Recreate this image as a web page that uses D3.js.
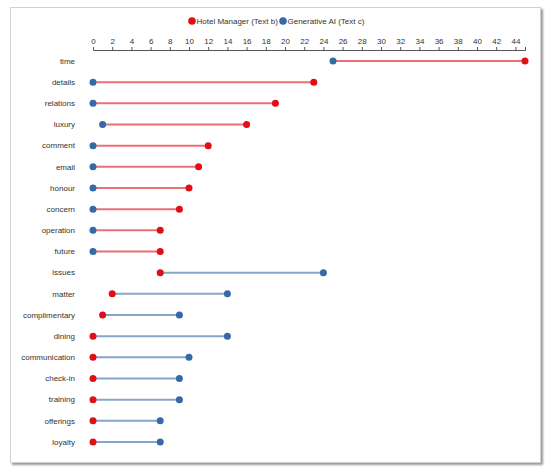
<!DOCTYPE html>
<html>
<head>
<meta charset="utf-8">
<script src="https://cdn.jsdelivr.net/npm/d3@7"></script>
<style>
html,body{margin:0;padding:0;background:#fff;}
#frame{position:absolute;left:10px;top:7px;width:529px;height:454px;border:1px solid #d0d0d0;box-shadow:2px 2px 2px #9a9a9a;background:#fff;}
svg{position:absolute;left:0;top:0;}
text{font-family:"Liberation Sans",Arial,sans-serif;}
</style>
</head>
<body>
<div id="frame"></div>
<svg id="chart" width="550" height="473"></svg>
<script>
const categories = ["time","details","relations","luxury","comment","email","honour","concern","operation","future","issues","matter","complimentary","dining","communication","check-in","training","offerings","loyalty"];
const hotelManager = [45,23,19,16,12,11,10,9,7,7,7,2,1,0,0,0,0,0,0];
const generativeAI = [25,0,0,1,0,0,0,0,0,0,24,14,9,14,10,9,9,7,7];
const seriesNames = ["Hotel Manager (Text b)","Generative AI (Text c)"];
const xTicks = d3.range(0,45,2);

const red = "#e00f16", blue = "#3569a8";
const svg = d3.select("#chart");
const x = d3.scaleLinear().domain([0,45]).range([93,525]);
const y = d3.scalePoint().domain(categories).range([61,442]);

const axis = svg.append("g").attr("transform","translate(0,50)")
  .call(d3.axisTop(x).tickValues(xTicks).tickSize(3).tickPadding(3));
axis.selectAll("path,line").attr("stroke","#555");
axis.selectAll("text").attr("font-size","8px").attr("fill","#333")
  .attr("font-family","'Liberation Sans',Arial,sans-serif");

const rows = categories.map((c,i)=>({c, h:hotelManager[i], a:generativeAI[i]}));

svg.append("g").selectAll("text").data(rows).join("text")
  .attr("x",75).attr("y",d=>y(d.c)).attr("dy","0.35em")
  .attr("text-anchor","end").attr("font-size","8px").attr("fill","#333")
  .text(d=>d.c);

svg.append("g").selectAll("line").data(rows).join("line")
  .attr("x1",d=>x(Math.min(d.h,d.a))).attr("x2",d=>x(Math.max(d.h,d.a)))
  .attr("y1",d=>y(d.c)).attr("y2",d=>y(d.c))
  .attr("stroke",d=>d.h>d.a?red:blue).attr("stroke-opacity",0.6).attr("stroke-width",2);

svg.append("g").selectAll("circle").data(rows).join("circle")
  .attr("cx",d=>x(d.a)).attr("cy",d=>y(d.c)).attr("r",3.5).attr("fill",blue);
svg.append("g").selectAll("circle").data(rows).join("circle")
  .attr("cx",d=>x(d.h)).attr("cy",d=>y(d.c)).attr("r",3.5).attr("fill",red);

// legend
const lg = svg.append("g");
const items = [{n:seriesNames[0],c:red,x:192},{n:seriesNames[1],c:blue,x:283}];
items.forEach(it=>{
  lg.append("circle").attr("cx",it.x).attr("cy",21).attr("r",3.8).attr("fill",it.c);
  lg.append("text").attr("x",it.x+4.5).attr("y",21).attr("dy","0.35em")
    .attr("font-size","8px").attr("fill","#333").text(it.n);
});
</script>
</body>
</html>
